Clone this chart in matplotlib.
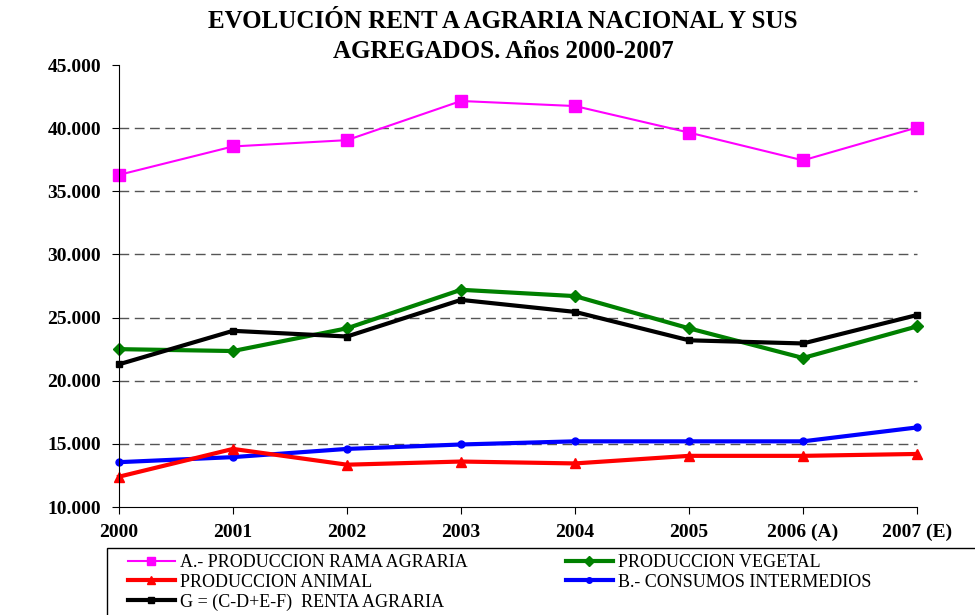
import matplotlib
matplotlib.use("Agg")
import matplotlib.pyplot as plt
from matplotlib.ticker import FuncFormatter
from matplotlib.patches import Rectangle

years = ["2000", "2001", "2002", "2003", "2004", "2005", "2006 (A)", "2007 (E)"]
prod_rama = [36300, 38550, 39050, 42150, 41750, 39650, 37450, 40050]
prod_vegetal = [22500, 22350, 24150, 27200, 26700, 24150, 21800, 24300]
prod_animal = [12400, 14600, 13350, 13600, 13450, 14050, 14050, 14200]
consumos = [13550, 13950, 14600, 14950, 15200, 15200, 15200, 16300]
renta = [21300, 23950, 23500, 26400, 25450, 23200, 22950, 25200]

labels = ["A.- PRODUCCION RAMA AGRARIA", "PRODUCCION VEGETAL", "PRODUCCION ANIMAL",
          "B.- CONSUMOS INTERMEDIOS", "G = (C-D+E-F)  RENTA AGRARIA"]

SERIF = ["Liberation Serif", "DejaVu Serif"]
plt.rcParams["font.family"] = SERIF

fig = plt.figure(figsize=(9.75, 6.15), dpi=100)
ax = fig.add_axes([119/975, 1-507/615, (917-119)/975, (507-65)/615])

x = list(range(len(years)))
h_a, = ax.plot(x, prod_rama, color="#ff00ff", lw=1.5, marker="s", ms=8, label=labels[0])
h_v, = ax.plot(x, prod_vegetal, color="#008000", lw=3, marker="D", ms=6.5, label=labels[1])
h_r, = ax.plot(x, renta, color="#000000", lw=3, marker="s", ms=5, label=labels[4])
h_b, = ax.plot(x, consumos, color="#0000ff", lw=3, marker="o", ms=5, label=labels[3])
h_an, = ax.plot(x, prod_animal, color="#ff0000", lw=3, marker="^", ms=6.5, label=labels[2])

ax.set_xlim(0, len(years) - 1)
ax.set_ylim(10000, 45000)
ax.set_yticks(range(10000, 45001, 5000))
ax.yaxis.set_major_formatter(FuncFormatter(lambda v, p: f"{int(v):,}".replace(",", ".")))
for g in range(15000, 45000, 5000):
    ax.axhline(g, color="#555555", lw=1, ls=(0, (7, 4)), zorder=0)
ax.set_xticks(x)
ax.set_xticklabels(years)
ax.spines["top"].set_visible(False)
ax.spines["right"].set_visible(False)
for s in ("left", "bottom"):
    ax.spines[s].set_linewidth(0.8)
ax.tick_params(axis="y", direction="out", length=5, width=0.8, labelsize=14, pad=8)
ax.tick_params(axis="x", direction="out", length=5, width=0.8, labelsize=14, pad=7)
for t in ax.get_yticklabels() + ax.get_xticklabels():
    t.set_fontweight("bold")
for ln in ax.get_lines():
    ln.set_clip_on(False)

fig.text(0.516, 1-10/615, "EVOLUCIÓN RENT A AGRARIA NACIONAL Y SUS\nAGREGADOS. Años 2000-2007",
         ha="center", va="top", fontsize=18, fontweight="bold", linespacing=1.4)

rect = Rectangle((107/975, -0.05), 0.95, 1-548/615+0.05, transform=fig.transFigure,
                 fill=False, edgecolor="black", lw=1, clip_on=False)
fig.add_artist(rect)

leg = fig.legend(handles=[h_a, h_an, h_r, h_v, h_b],
                 labels=[labels[0], labels[2], labels[4], labels[1], labels[3]],
                 ncol=2, loc="upper left", bbox_to_anchor=(128/975, 1-554/615),
                 frameon=False, fontsize=13, handlelength=2.6, handletextpad=0.3,
                 labelspacing=0.15, columnspacing=5.4, borderaxespad=0, borderpad=0,
                 markerscale=0.8)

fig.savefig("out.png", dpi=100)
